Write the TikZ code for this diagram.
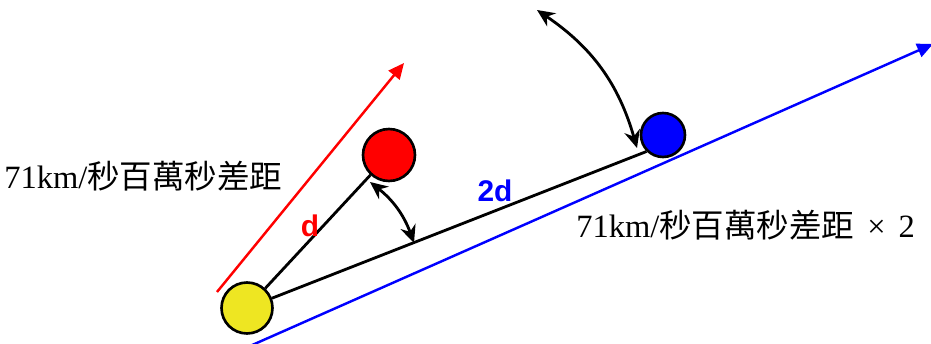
\documentclass[tikz,border=0pt]{standalone}
\usepackage{fontspec}
\usepackage{xcolor}
\usepackage{tikz}
\usetikzlibrary{arrows.meta,positioning,calc}
\setmainfont{Liberation Serif}
\newfontfamily\cjk{Noto Sans CJK TC}
\newfontfamily\labelsans{Liberation Sans}
\definecolor{BallYellow}{HTML}{EEE622}
\definecolor{BallRed}{HTML}{FF0000}
\definecolor{BallBlue}{HTML}{0000FF}
\tikzset{
  ball/.style={circle,draw=black,line width=1.5pt,inner sep=0pt},
  bY/.style={ball,fill=BallYellow,minimum size=1.02cm},
  bR/.style={ball,fill=BallRed,minimum size=1.04cm},
  bB/.style={ball,fill=BallBlue,minimum size=0.88cm},
  link/.style={line width=1.6pt,draw=black},
  swing/.style={{Stealth[length=10pt,width=9pt]}-{Stealth[length=10pt,width=9pt]},line width=1.6pt},
  ray/.style={-{Triangle[length=9pt,width=8pt]},line width=1.4pt},
  rate/.style={font=\fontsize{18.5}{21}\selectfont,inner sep=0pt,anchor=west},
  dist/.style={font=\labelsans\bfseries\fontsize{17}{19}\selectfont,inner sep=0pt}
}

\begin{document}
\begin{tikzpicture}[x=0.02cm,y=-0.02cm]
  \useasboundingbox (0,0) rectangle (931,344);

  % the three galaxies
  \node[bY] (home) at (247,308) {};
  \node[bR] (near) at (389,155) {};
  \node[bB] (far)  at (663,135) {};

  % recession directions
  \coordinate (redS) at (217,292);
  \coordinate (redE) at (404,63);
  \coordinate (bluS) at (250,346);
  \coordinate (bluE) at (933,44);
  \draw[ray,BallRed](redS)--(redE);
  \draw[ray,BallBlue](bluS)--(bluE);

  % distances
  \draw[link](home)--(far.south west);
  \draw[link](home)--(near);

  % angle markers
  \coordinate (a1) at (370,182);
  \coordinate (a2) at (414,243);
  \coordinate (b1) at (537,10);
  \coordinate (b2) at (637,148);
  \draw[swing](a1) to[bend left=16] (a2);
  \draw[swing](b1) to[bend left=20] (b2);

  \node[dist,text=BallRed] (dlab) at (310,226) {d};
  \node[dist,text=BallBlue] (ddlab) at (495,191) {2d};

  \node[rate] (vnear) at (4,176) {71km/{\cjk 秒百萬秒差距}};
  \node[rate] (vfar) at (576,225) {71km/{\cjk 秒百萬秒差距}\hspace{0.4em}×\hspace{0.4em}2};
\end{tikzpicture}
\end{document}
